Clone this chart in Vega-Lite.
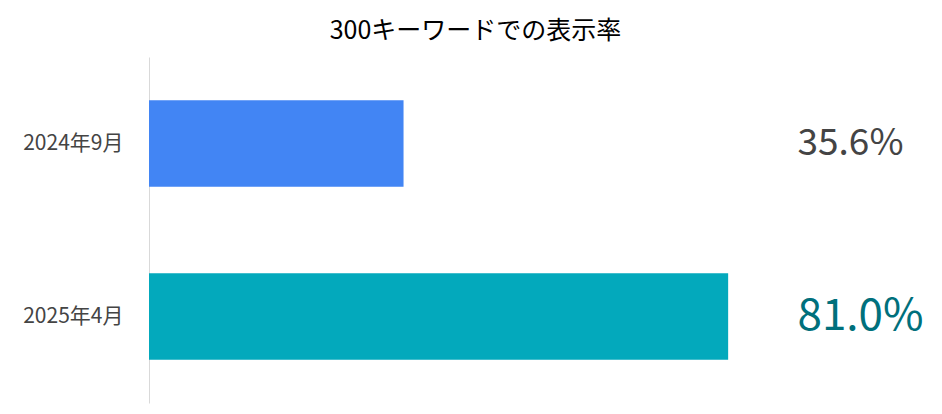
{
  "$schema": "https://vega.github.io/schema/vega-lite/v6.json",
  "autosize": {"type": "none"},
  "padding": {"left": 149, "top": 57, "right": 78, "bottom": 11},
  "width": 715,
  "height": 346,
  "background": "white",
  "title": {
    "text": "300キーワードでの表示率",
    "font": "Noto Sans CJK JP",
    "fontSize": 25,
    "fontWeight": "normal",
    "color": "#000000",
    "anchor": "middle",
    "dx": -31,
    "offset": 13
  },
  "config": {
    "view": {"stroke": null},
    "font": "Noto Sans CJK JP"
  },
  "data": {
    "values": [
      {"period": "2024年9月", "rate": 35.6, "label": "35.6%"},
      {"period": "2025年4月", "rate": 81.0, "label": "81.0%"}
    ]
  },
  "encoding": {
    "y": {
      "field": "period",
      "type": "nominal",
      "sort": null,
      "scale": {"paddingInner": 0.5, "paddingOuter": 0.25},
      "axis": {
        "title": null,
        "ticks": false,
        "grid": false,
        "domainColor": "#d9d9d9",
        "labelFontSize": 21,
        "labelColor": "#444444",
        "labelPadding": 26,
        "labelFont": "Noto Sans CJK JP"
      }
    }
  },
  "layer": [
    {
      "mark": {"type": "bar"},
      "encoding": {
        "x": {
          "field": "rate",
          "type": "quantitative",
          "scale": {"domain": [0, 100]},
          "axis": null
        },
        "color": {
          "field": "period",
          "type": "nominal",
          "scale": {"domain": ["2024年9月", "2025年4月"], "range": ["#4285F4", "#03A9BC"]},
          "legend": null
        }
      }
    },
    {
      "mark": {"type": "text", "align": "left", "baseline": "middle", "font": "Noto Sans CJK JP"},
      "encoding": {
        "x": {"datum": 90.7, "type": "quantitative"},
        "text": {"field": "label"},
        "color": {
          "field": "period",
          "type": "nominal",
          "scale": {"domain": ["2024年9月", "2025年4月"], "range": ["#444444", "#00707C"]},
          "legend": null
        },
        "size": {
          "field": "period",
          "type": "nominal",
          "scale": {"domain": ["2024年9月", "2025年4月"], "range": [37, 44]},
          "legend": null
        }
      }
    }
  ],
  "resolve": {"scale": {"color": "independent"}}
}
